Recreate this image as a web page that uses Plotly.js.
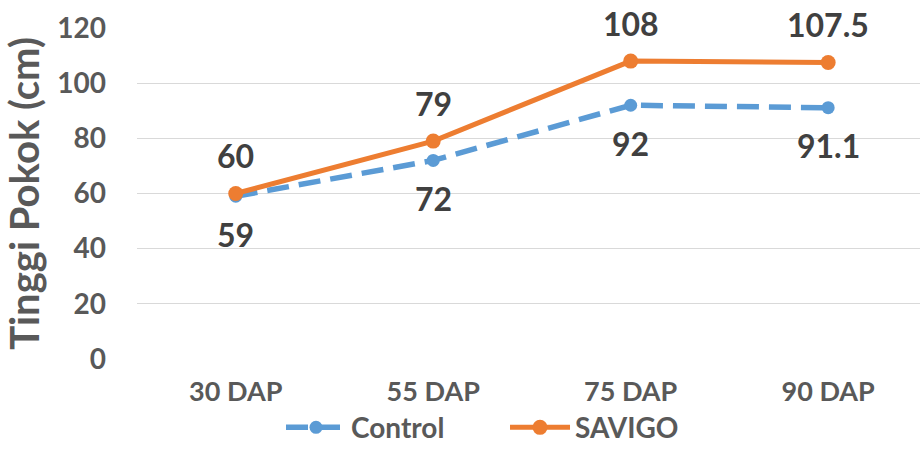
<!DOCTYPE html>
<html>
<head>
<meta charset="utf-8">
<script src="https://cdn.plot.ly/plotly-3.0.1.min.js"></script>
<style>html,body{margin:0;padding:0;background:#fff}#chart{width:920px;height:453px}</style>
</head>
<body>
<div id="chart"></div>
<script>
const categories = ['30 DAP', '55 DAP', '75 DAP', '90 DAP'];
const controlValues = [59, 72, 92, 91.1];
const savigoValues = [60, 79, 108, 107.5];
const controlLabels = ['59', '72', '92', '91.1'];
const savigoLabels = ['60', '79', '108', '107.5'];
const yTicks = [0, 20, 40, 60, 80, 100, 120];

const FONT = 'Lato, "Open Sans", sans-serif';
const GREY = '#595959';
const BLUE = '#5B9BD5';
const ORANGE = '#ED7D31';

const traces = [
  {
    x: categories, y: controlValues, name: 'Control', type: 'scatter', mode: 'lines+markers',
    line: {color: BLUE, width: 5.5, dash: '22px,10px'},
    marker: {color: BLUE, size: 13, symbol: 'circle'}
  },
  {
    x: categories, y: savigoValues, name: 'SAVIGO', type: 'scatter', mode: 'lines+markers',
    line: {color: ORANGE, width: 5},
    marker: {color: ORANGE, size: 15, symbol: 'circle'}
  }
];

const annotations = [];
categories.forEach((c, i) => {
  annotations.push({x: c, y: savigoValues[i], text: savigoLabels[i], showarrow: false,
    yshift: 38, font: {family: FONT, size: 32, color: '#404040', weight: 'bold'}});
  annotations.push({x: c, y: controlValues[i], text: controlLabels[i], showarrow: false,
    yshift: -38, font: {family: FONT, size: 32, color: '#404040', weight: 'bold'}});
});

const layout = {
  width: 920, height: 453,
  margin: {l: 137, r: 0, t: 28, b: 94},
  paper_bgcolor: '#fff', plot_bgcolor: '#fff',
  showlegend: true,
  legend: {orientation: 'h', x: 0.47, xanchor: 'center', y: -0.283, yanchor: 'bottom',
    font: {family: FONT, size: 28, color: GREY, weight: 'bold'}, itemwidth: 60,
    entrywidth: 149, entrywidthmode: 'pixels', tracegroupgap: 0},
  xaxis: {
    type: 'category', range: [-0.5, 3.465], showgrid: false, zeroline: false,
    showline: false, ticks: '', ticklabelstandoff: 14,
    tickfont: {family: FONT, size: 27, color: GREY, weight: 'bold'}
  },
  yaxis: {
    range: [0, 120], tickvals: yTicks, showgrid: true, gridcolor: '#d9d9d9', gridwidth: 1.3,
    zeroline: false, showline: false, ticks: '', ticklabelstandoff: 30,
    tickfont: {family: FONT, size: 28, color: GREY, weight: 'bold'},
    title: {text: 'Tinggi Pokok (cm)', standoff: 12,
      font: {family: FONT, size: 40, color: GREY, weight: 'bold'}}
  },
  annotations: annotations
};

Plotly.newPlot('chart', traces, layout, {displayModeBar: false, staticPlot: true});
</script>
</body>
</html>
